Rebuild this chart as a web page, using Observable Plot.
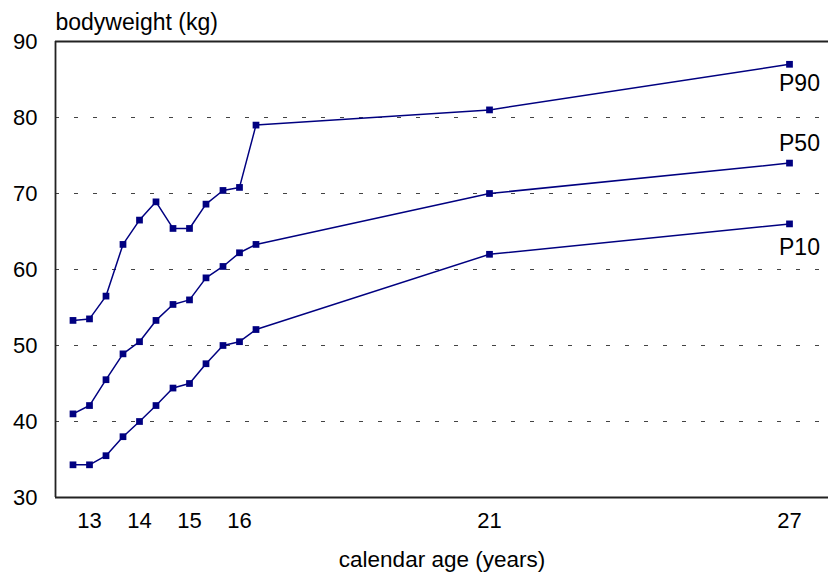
<!DOCTYPE html>
<html>
<head>
<meta charset="utf-8">
<script src="https://cdn.jsdelivr.net/npm/d3@7"></script>
<script src="https://cdn.jsdelivr.net/npm/@observablehq/plot@0.6"></script>
<style>
  html, body { margin: 0; padding: 0; background: #fff; }
  #chart svg { display: block; }
</style>
</head>
<body>
<div id="chart"></div>
<script>
// Ages (years) of each measurement
const ages = [12.67, 13, 13.33, 13.67, 14, 14.33, 14.67, 15, 15.33, 15.67, 16, 16.33, 21, 27];
// Bodyweight percentiles (kg)
const p90 = [53.3, 53.5, 56.5, 63.3, 66.5, 68.9, 65.4, 65.4, 68.6, 70.4, 70.8, 79.0, 81.0, 87.0];
const p50 = [41.0, 42.1, 45.5, 48.9, 50.5, 53.3, 55.4, 56.0, 58.9, 60.4, 62.2, 63.3, 70.0, 74.0];
const p10 = [34.3, 34.3, 35.5, 38.0, 40.0, 42.1, 44.4, 45.0, 47.6, 50.0, 50.5, 52.1, 62.0, 66.0];
const seriesNames = ["P90", "P50", "P10"];
const xTicks = [13, 14, 15, 16, 21, 27];
const yTicks = [30, 40, 50, 60, 70, 80, 90];
const gridValues = [40, 50, 60, 70, 80];
const xTitle = "calendar age (years)";
const yTitle = "bodyweight (kg)";

const xDomain = [12.32, 27.78];
const yDomain = [30, 90];
const navy = "#000080";

const valuesByName = {P90: p90, P50: p50, P10: p10};
const rows = seriesNames.flatMap(name =>
  ages.map((age, i) => ({series: name, age, weight: valuesByName[name][i]}))
);
const lastRows = seriesNames.map(name => ({series: name, age: ages[ages.length - 1], weight: valuesByName[name][ages.length - 1]}));
const labelDy = {P90: 19, P50: -19, P10: 24};

const chart = Plot.plot({
  width: 828,
  height: 574,
  marginLeft: 55,
  marginRight: 0,
  marginTop: 41,
  marginBottom: 77,
  style: {fontFamily: "'Liberation Sans', Arial, sans-serif", fontSize: "22px", color: "#000", background: "#fff"},
  x: {domain: xDomain},
  y: {domain: yDomain},
  marks: [
    Plot.ruleY(gridValues, {stroke: "#444", strokeWidth: 1.2, strokeDasharray: "4,15"}),
    Plot.ruleY([yDomain[0], yDomain[1]], {stroke: "#222", strokeWidth: 1.8}),
    Plot.ruleX([xDomain[0]], {stroke: "#222", strokeWidth: 1.8}),
    Plot.axisX(xTicks, {tickSize: 0, tickPadding: 15, fontSize: 22, label: null, tickFormat: d => String(d)}),
    Plot.axisY(yTicks, {tickSize: 0, tickPadding: 18, fontSize: 22, label: null, tickFormat: d => String(d)}),
    Plot.line(rows, {x: "age", y: "weight", z: "series", stroke: navy, strokeWidth: 1.5}),
    Plot.dot(rows, {x: "age", y: "weight", symbol: "square", r: 3.8, fill: navy, stroke: null}),
    ...seriesNames.map(name =>
      Plot.text(lastRows.filter(d => d.series === name), {
        x: "age", y: "weight", text: "series", dx: 10, dy: labelDy[name],
        fontSize: 23, fill: "#000", textAnchor: "middle"
      })
    ),
    Plot.text([yTitle], {frameAnchor: "top-left", textAnchor: "start", lineAnchor: "bottom", dy: -12, fontSize: 23, fill: "#000"}),
    Plot.text([xTitle], {frameAnchor: "bottom", textAnchor: "middle", lineAnchor: "bottom", dy: 69, fontSize: 22.5, fill: "#000"})
  ]
});
document.getElementById("chart").appendChild(chart);
</script>
</body>
</html>
